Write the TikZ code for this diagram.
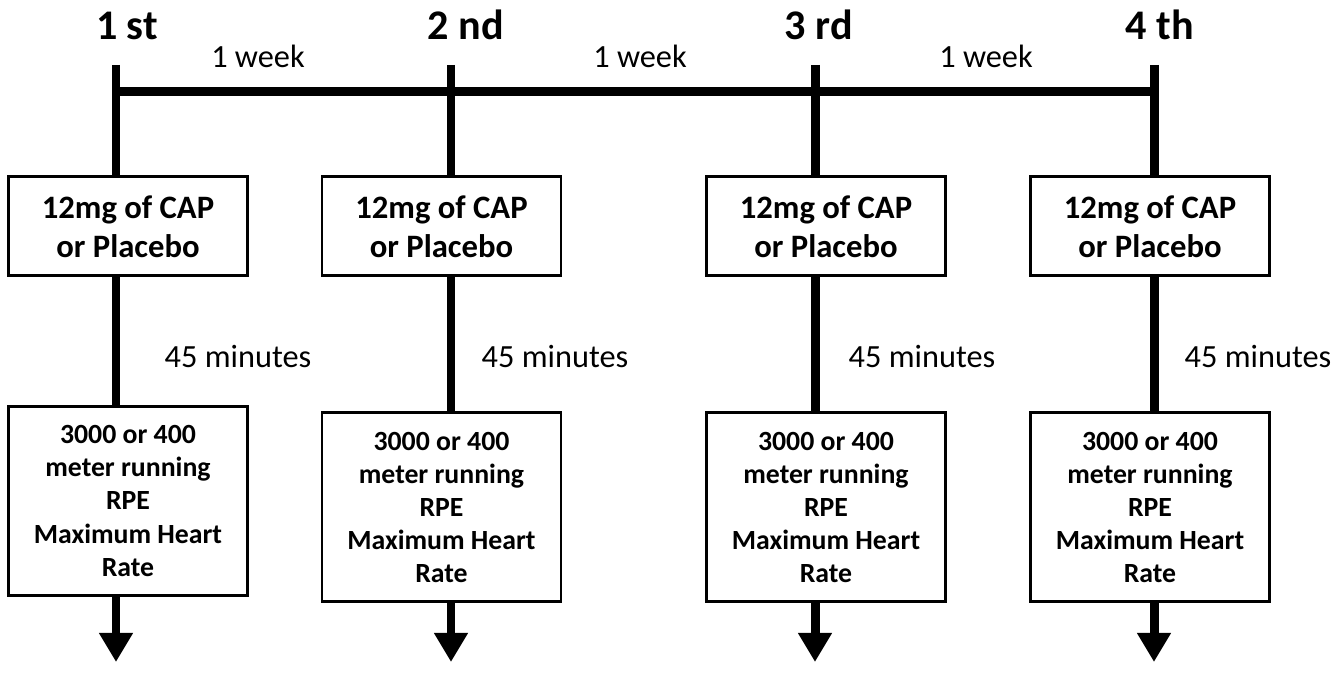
\documentclass[tikz,border=0pt]{standalone}
\usepackage{fontspec}
\setmainfont{Carlito}
\usetikzlibrary{arrows.meta}

\tikzset{
  track/.style={line width=2.56pt},
  session/.style={anchor=base, inner sep=0pt, font=\fontsize{12}{14}\selectfont\bfseries},
  gap/.style={anchor=base, inner sep=0pt, font=\fontsize{9.2}{11}\selectfont},
  dose/.style={draw, line width=0.85pt, fill=white, minimum width=2.39cm, minimum height=0.99cm,
    inner sep=0pt, align=center, font=\fontsize{9.3}{11.1}\selectfont\bfseries},
  test/.style={draw, line width=0.85pt, fill=white, minimum width=2.39cm, minimum height=1.89cm,
    inner sep=0pt, align=center, font=\fontsize{7.9}{9.4}\selectfont\bfseries}
}

\begin{document}
\begin{tikzpicture}
\useasboundingbox (0,0) rectangle (13.44,6.73);

% sessions
\node[session] (s1) at (1.27,6.33) {1 st};
\node[session] (s2) at (4.66,6.33) {2 nd};
\node[session] (s3) at (8.19,6.33) {3 rd};
\node[session] (s4) at (11.60,6.33) {4 th};

\node[gap] (w1) at (2.58,6.05) {1 week};
\node[gap] (w2) at (6.40,6.05) {1 week};
\node[gap] (w3) at (9.86,6.05) {1 week};

% timeline
\coordinate (top1) at (1.16,6.08);
\coordinate (top2) at (4.51,6.08);
\coordinate (top3) at (8.15,6.08);
\coordinate (top4) at (11.54,6.08);
\coordinate (h1) at (1.16,5.81);
\coordinate (h4) at (11.54,5.81);
\draw[track] (h1) -- (h4);

% boxes
\node[dose] (dose1) at (1.28,4.465) {12mg of CAP\\or Placebo};
\node[dose] (dose2) at (4.415,4.465) {12mg of CAP\\or Placebo};
\node[dose] (dose3) at (8.26,4.465) {12mg of CAP\\or Placebo};
\node[dose] (dose4) at (11.50,4.465) {12mg of CAP\\or Placebo};

\node[gap] (m1) at (2.38,3.05) {45 minutes};
\node[gap] (m2) at (5.55,3.05) {45 minutes};
\node[gap] (m3) at (9.22,3.05) {45 minutes};
\node[gap] (m4) at (12.58,3.05) {45 minutes};

\node[test] (test1) at (1.28,1.72) {3000 or 400\\meter running\\RPE\\Maximum Heart\\Rate};
\node[test] (test2) at (4.415,1.655) {3000 or 400\\meter running\\RPE\\Maximum Heart\\Rate};
\node[test] (test3) at (8.26,1.655) {3000 or 400\\meter running\\RPE\\Maximum Heart\\Rate};
\node[test] (test4) at (11.50,1.655) {3000 or 400\\meter running\\RPE\\Maximum Heart\\Rate};

\coordinate (end1) at (1.16,0.11);
\coordinate (end2) at (4.51,0.11);
\coordinate (end3) at (8.15,0.11);
\coordinate (end4) at (11.54,0.11);

\foreach \i in {1,...,4}{
  \draw[track] (top\i) -- (top\i |- dose\i.north);
  \draw[track] (top\i |- dose\i.south) -- (top\i |- test\i.north);
  \draw[track,-{Triangle[width=3.2mm,length=2.9mm]}] (top\i |- test\i.south) -- (end\i);
}
\end{tikzpicture}
\end{document}
